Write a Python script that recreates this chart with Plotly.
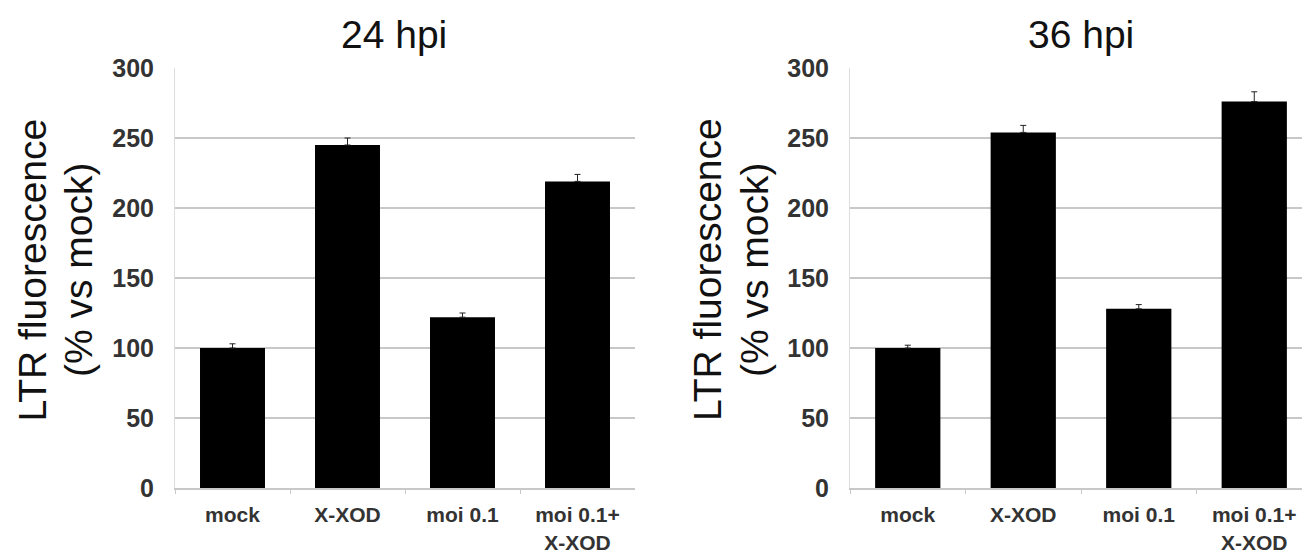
import plotly.graph_objects as go

categories = ["mock", "X-XOD", "moi 0.1", "moi 0.1+<br>X-XOD"]
values_24 = [100, 245, 122, 219]
errors_24 = [3, 5, 3, 5]
values_36 = [100, 254, 128, 276]
errors_36 = [2, 5, 3, 7]
titles = ["24 hpi", "36 hpi"]
y_title_lines = ["LTR fluorescence", "(% vs mock)"]
y_ticks = [0, 50, 100, 150, 200, 250, 300]

FONT = "Liberation Sans, Arial, sans-serif"
W, H = 1310, 554
OFF = 8  # page body margin offset


def px_x(x):
    return (x - OFF) / W


def px_y(y):
    return 1 - (y - OFF) / H


fig = go.Figure()

for i, (vals, errs) in enumerate([(values_24, errors_24), (values_36, errors_36)]):
    xa = "x" if i == 0 else "x2"
    ya = "y" if i == 0 else "y2"
    fig.add_trace(go.Bar(
        x=categories, y=vals, xaxis=xa, yaxis=ya,
        marker=dict(color="black", line=dict(width=0)),
        width=0.565,
        error_y=dict(type="data", array=errs, visible=True, color="#222222",
                     thickness=1, width=3, symmetric=False, arrayminus=[0]*4),
        showlegend=False,
    ))

axis_common_x = dict(
    type="category", showgrid=False, showline=True, linecolor="#c8c8c8", linewidth=2,
    ticks="outside", tickson="boundaries", ticklen=4, tickcolor="#c8c8c8",
    tickfont=dict(family=FONT, size=21, color="#333", weight="bold"),
    ticklabelstandoff=7,
    fixedrange=True,
)
axis_common_y = dict(
    range=[0, 300], tickvals=y_ticks, showgrid=True, gridcolor="#c8c8c8", gridwidth=1.5,
    showline=True, linecolor="#dddddd", linewidth=1, zeroline=False, ticks="",
    ticklabelstandoff=15,
    tickfont=dict(family=FONT, size=25, color="#333", weight="bold"),
)

ydom = [px_y(488), px_y(68)]
fig.update_layout(
    width=W, height=H,
    margin=dict(l=0, r=0, t=0, b=0, autoexpand=False),
    paper_bgcolor="white", plot_bgcolor="white",
    xaxis=dict(domain=[px_x(175), px_x(635)], anchor="y", **axis_common_x),
    yaxis=dict(domain=ydom, anchor="x", **axis_common_y),
    xaxis2=dict(domain=[px_x(850), px_x(1312)], anchor="y2", **axis_common_x),
    yaxis2=dict(domain=ydom, anchor="x2", **axis_common_y),
)

annotations = []
panels = [(393.5, 31.5, 78), (1081, 707, 754)]
for i, (tx, l1x, l2x) in enumerate(panels):
    annotations.append(dict(
        text=titles[i], x=px_x(tx), y=px_y(34), xref="paper", yref="paper",
        showarrow=False, xanchor="center", yanchor="middle",
        font=dict(family=FONT, size=39, color="#111"),
    ))
    for lx, line in zip((l1x, l2x), y_title_lines):
        annotations.append(dict(
            text=line, x=px_x(lx), y=px_y(270),
            xref="paper", yref="paper", showarrow=False, textangle=-90,
            xanchor="center", yanchor="middle",
            font=dict(family=FONT, size=39, color="#111"),
        ))
fig.update_layout(annotations=annotations)

fig.write_html("out.html")
